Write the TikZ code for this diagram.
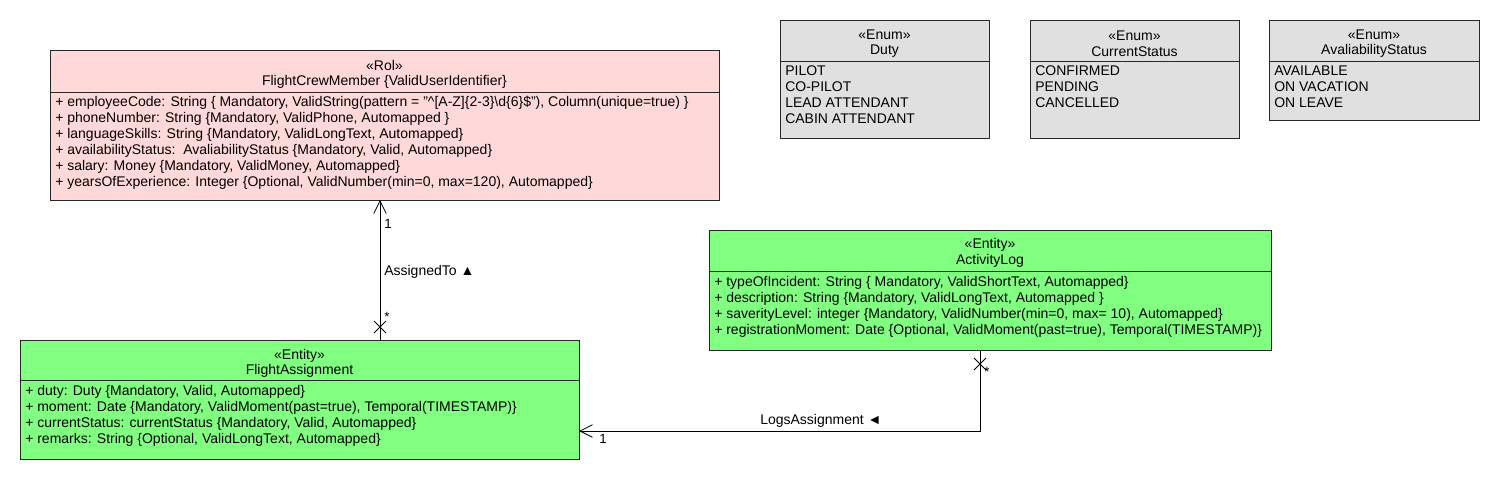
\documentclass[tikz,border=0pt]{standalone}
\usepackage{fontspec}
\setmainfont{Liberation Sans}
\usetikzlibrary{calc,arrows.meta}
\definecolor{rolfill}{RGB}{255,217,217}
\definecolor{entfill}{RGB}{128,255,128}
\definecolor{enumfill}{RGB}{224,224,224}
\definecolor{edge}{RGB}{40,40,40}
\begin{document}
\begin{tikzpicture}[x=0.75pt,y=-0.75pt,
  font=\fontsize{10.5}{11.9}\selectfont,
  box/.style={draw=edge, line width=0.7pt, anchor=north west, inner sep=0pt, outer sep=0pt},
  ttl/.style={align=center, inner sep=0pt, font=\fontsize{10.5}{11.7}\selectfont},
  attrs/.style={align=left, anchor=north west, inner sep=0pt},
  bigattrs/.style={align=left, anchor=north west, inner sep=0pt, font=\fontsize{10.5}{12.05}\selectfont},
  enumattrs/.style={align=left, anchor=north west, inner sep=0pt, font=\fontsize{10.5}{12}\selectfont},
  divider/.style={draw=edge, line width=0.7pt},
  assoc/.style={draw=black, line width=0.6pt},
  navtip/.style={-{Straight Barb[length=9.5pt,width=9.5pt,line width=0.6pt]}},
  lbl/.style={inner sep=0pt, font=\fontsize{10.5}{11.7}\selectfont},
  mult/.style={inner sep=0pt, font=\fontsize{10}{11}\selectfont}
]
\useasboundingbox (0,0) rectangle (1500,480);

% ---------- FlightCrewMember ----------
\node[box, fill=rolfill, minimum width={669*0.75pt}, minimum height={150*0.75pt}] (fcm) at (50,50) {};
\draw[divider] ($(fcm.north west)+(0,42)$) -- ($(fcm.north east)+(0,42)$);
\node[ttl] (fcmt) at ($(fcm.north)+(0,24.5)$) {«Rol»\\FlightCrewMember \{ValidUserIdentifier\}};
\node[bigattrs] (fcma) at ($(fcm.north west)+(5,45.5)$) {%
+ employeeCode: String \{ Mandatory, ValidString(pattern = "\textasciicircum[A-Z]\{2-3\}\textbackslash d\{6\}\$"), Column(unique=true) \}\\
+ phoneNumber: String \{Mandatory, ValidPhone, Automapped \}\\
+ languageSkills: String \{Mandatory, ValidLongText, Automapped\}\\
+ availabilityStatus:\ \ AvaliabilityStatus \{Mandatory, Valid, Automapped\}\\
+ salary: Money \{Mandatory, ValidMoney, Automapped\}\\
+ yearsOfExperience: Integer \{Optional, ValidNumber(min=0, max=120), Automapped\}};

% ---------- FlightAssignment ----------
\node[box, fill=entfill, minimum width={559*0.75pt}, minimum height={119*0.75pt}] (fa) at (20,340) {};
\draw[divider] ($(fa.north west)+(0,40)$) -- ($(fa.north east)+(0,40)$);
\node[ttl] (fat) at ($(fa.north)+(0,23.5)$) {«Entity»\\FlightAssignment};
\node[attrs] (faa) at ($(fa.north west)+(5,45)$) {%
+ duty: Duty \{Mandatory, Valid, Automapped\}\\
+ moment: Date \{Mandatory, ValidMoment(past=true), Temporal(TIMESTAMP)\}\\
+ currentStatus: currentStatus \{Mandatory, Valid, Automapped\}\\
+ remarks: String \{Optional, ValidLongText, Automapped\}};

% ---------- ActivityLog ----------
\node[box, fill=entfill, minimum width={562*0.75pt}, minimum height={120*0.75pt}] (al) at (709,230) {};
\draw[divider] ($(al.north west)+(0,41)$) -- ($(al.north east)+(0,41)$);
\node[ttl] (alt) at ($(al.north)+(0,23)$) {«Entity»\\ActivityLog};
\node[attrs] (ala) at ($(al.north west)+(5,46.5)$) {%
+ typeOfIncident: String \{ Mandatory, ValidShortText, Automapped\}\\
+ description: String \{Mandatory, ValidLongText, Automapped \}\\
+ saverityLevel: integer \{Mandatory, ValidNumber(min=0, max= 10), Automapped\}\\
+ registrationMoment: Date \{Optional, ValidMoment(past=true), Temporal(TIMESTAMP)\}};

% ---------- Enums ----------
\node[box, fill=enumfill, minimum width={209*0.75pt}, minimum height={118*0.75pt}] (duty) at (780,20) {};
\draw[divider] ($(duty.north west)+(0,41)$) -- ($(duty.north east)+(0,41)$);
\node[ttl] (dutyt) at ($(duty.north)+(0,23.5)$) {«Enum»\\Duty};
\node[enumattrs] (dutya) at ($(duty.north west)+(5,45.5)$) {PILOT\\CO-PILOT\\LEAD ATTENDANT\\CABIN ATTENDANT};

\node[box, fill=enumfill, minimum width={209*0.75pt}, minimum height={118*0.75pt}] (cs) at (1030,20) {};
\draw[divider] ($(cs.north west)+(0,41)$) -- ($(cs.north east)+(0,41)$);
\node[ttl] (cst) at ($(cs.north)+(0,23.5)$) {«Enum»\\CurrentStatus};
\node[enumattrs] (csa) at ($(cs.north west)+(5,45.5)$) {CONFIRMED\\PENDING\\CANCELLED};

\node[box, fill=enumfill, minimum width={210*0.75pt}, minimum height={100*0.75pt}] (as) at (1269,20) {};
\draw[divider] ($(as.north west)+(0,41)$) -- ($(as.north east)+(0,41)$);
\node[ttl] (ast) at ($(as.north)+(0,23.5)$) {«Enum»\\AvaliabilityStatus};
\node[enumattrs] (asa) at ($(as.north west)+(5,45.5)$) {AVAILABLE\\ON VACATION\\ON LEAVE};

% ---------- AssignedTo ----------
\coordinate (x1) at ($(fa.north west)+(360,-13)$);
\draw[assoc, navtip] ($(fa.north west)+(360,0)$) -- ($(fcm.south west)+(330,0)$);
\draw[assoc] ($(x1)+(-6,-6)$) -- ($(x1)+(6,6)$) ($(x1)+(-6,6)$) -- ($(x1)+(6,-6)$);
\node[mult, anchor=west] (m1) at ($(fcm.south west)+(334,24)$) {1};
\node[mult, anchor=west] (m2) at ($(fa.north west)+(364,-23)$) {*};
\node[lbl, anchor=west] (l1) at ($(fcm.south west)+(334,72)$) {AssignedTo ▲};

% ---------- LogsAssignment ----------
\coordinate (x2) at ($(al.south west)+(271,14)$);
\draw[assoc, navtip] ($(al.south west)+(271,0)$) |- ($(fa.north east)+(0,91)$);
\draw[assoc] ($(x2)+(-6,-6)$) -- ($(x2)+(6,6)$) ($(x2)+(-6,6)$) -- ($(x2)+(6,-6)$);
\node[mult, anchor=west] (m3) at ($(al.south west)+(275,22)$) {*};
\node[mult, anchor=west] (m4) at ($(fa.north east)+(20,99)$) {1};
\node[lbl, anchor=west] (l2) at ($(fa.north east)+(181,81)$) {LogsAssignment ◄};
\end{tikzpicture}
\end{document}
